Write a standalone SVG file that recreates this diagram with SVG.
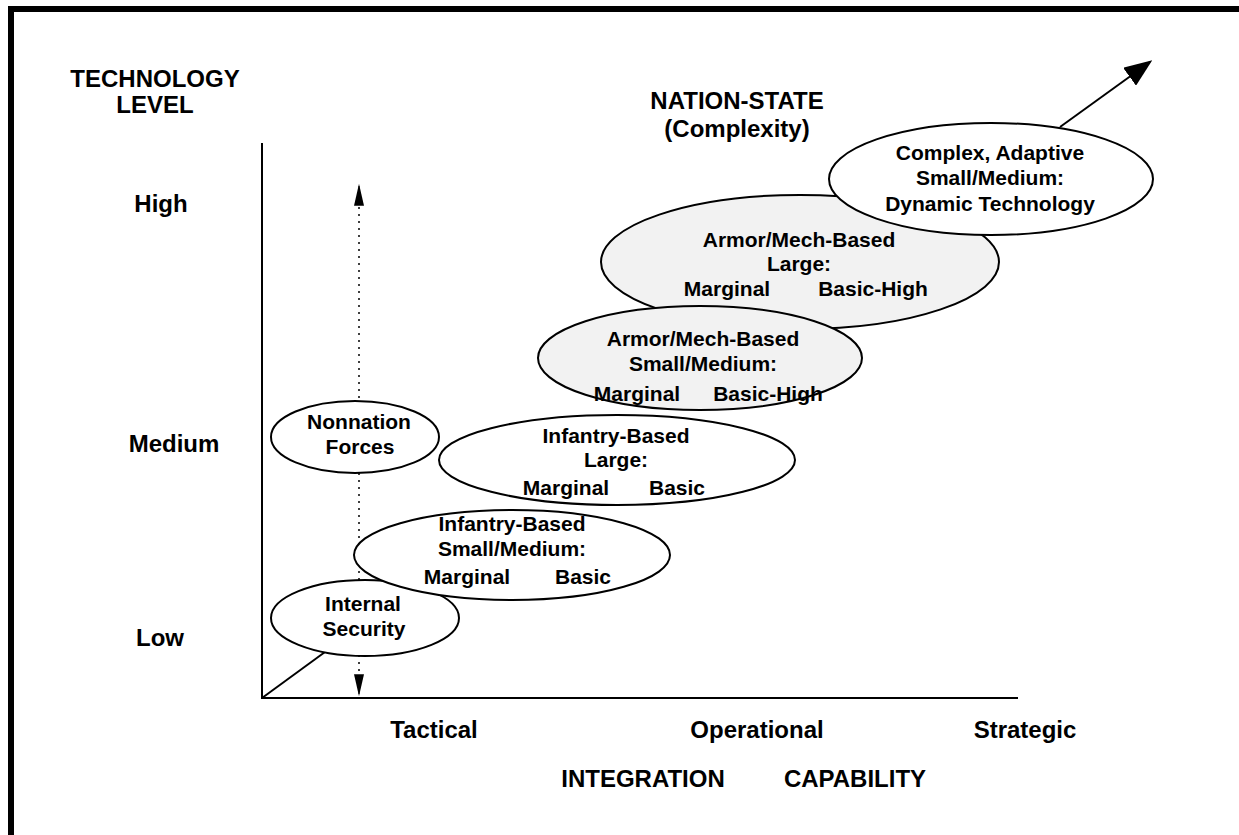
<svg xmlns="http://www.w3.org/2000/svg" width="1239" height="835" viewBox="0 0 1239 835">
  <style>
    text { font-family: "Liberation Sans", Arial, sans-serif; font-weight: bold; font-size: 21px; fill: #000; text-anchor: middle; }
    .title, .tick { font-size: 24px; }
    .node ellipse { stroke: #000; stroke-width: 2; fill: #fff; }
    .node.shaded ellipse { fill: #f2f2f2; }
    .axis { stroke: #000; stroke-width: 2; fill: none; }
    .dotted { stroke: #000; stroke-width: 1.5; stroke-dasharray: 2 5; fill: none; }
  </style>
  <defs>
    <marker id="bigHead" viewBox="0 0 10 10" refX="9" refY="5" markerWidth="28" markerHeight="22" markerUnits="userSpaceOnUse" orient="auto" preserveAspectRatio="none">
      <path d="M0,0 L10,5 L0,10 Z" fill="#000"/>
    </marker>
    <marker id="tallHead" viewBox="0 0 10 10" refX="9" refY="5" markerWidth="22" markerHeight="10" markerUnits="userSpaceOnUse" orient="auto" preserveAspectRatio="none">
      <path d="M0,0 L10,5 L0,10 Z" fill="#000"/>
    </marker>
  </defs>

  <rect width="1239" height="835" fill="#fff"/>

  <!-- frame -->
  <path d="M11,835 V9 H1239" fill="none" stroke="#000" stroke-width="6"/>

  <!-- axis titles and tick labels -->
  <g id="labels">
    <text class="title" x="155" y="87">TECHNOLOGY</text>
    <text class="title" x="155" y="113">LEVEL</text>
    <text class="title" x="737" y="109">NATION-STATE</text>
    <text class="title" x="737" y="137">(Complexity)</text>
    <text class="tick" x="161" y="212">High</text>
    <text class="tick" x="174" y="452">Medium</text>
    <text class="tick" x="160" y="646">Low</text>
    <text class="tick" x="434" y="738">Tactical</text>
    <text class="tick" x="757" y="738">Operational</text>
    <text class="tick" x="1025" y="738">Strategic</text>
    <text class="title" x="643" y="787">INTEGRATION</text>
    <text class="title" x="855" y="787">CAPABILITY</text>
  </g>

  <!-- axes and connectors -->
  <g id="connectors">
    <path class="axis" d="M262,143 V698 H1018"/>
    <path class="axis" d="M262,698 L325,652"/>
    <path class="dotted" d="M359,200 V680"/>
    <path d="M359,196 V186" stroke="#000" stroke-width="1" marker-end="url(#tallHead)"/>
    <path d="M359,684 V694" stroke="#000" stroke-width="1" marker-end="url(#tallHead)"/>
    <path class="axis" d="M1060,127 L1150,62" marker-end="url(#bigHead)"/>
  </g>

  <g id="internal-security" class="node">
    <ellipse cx="365" cy="618" rx="94" ry="38"/>
    <text x="363" y="611">Internal</text>
    <text x="364" y="636">Security</text>
  </g>

  <g id="infantry-small" class="node">
    <ellipse cx="512" cy="555" rx="158" ry="45"/>
    <text x="512" y="531">Infantry-Based</text>
    <text x="512" y="556">Small/Medium:</text>
    <text x="467" y="584">Marginal</text>
    <text x="583" y="584">Basic</text>
  </g>

  <g id="nonnation-forces" class="node">
    <ellipse cx="355" cy="437" rx="84" ry="36"/>
    <text x="359" y="429">Nonnation</text>
    <text x="360" y="454">Forces</text>
  </g>

  <g id="infantry-large" class="node">
    <ellipse cx="617" cy="460" rx="178" ry="45"/>
    <text x="616" y="443">Infantry-Based</text>
    <text x="616" y="467">Large:</text>
    <text x="566" y="495">Marginal</text>
    <text x="677" y="495">Basic</text>
  </g>

  <g id="armor-large" class="node shaded">
    <ellipse cx="800" cy="262" rx="199" ry="67"/>
    <text x="799" y="247">Armor/Mech-Based</text>
    <text x="799" y="271">Large:</text>
    <text x="727" y="296">Marginal</text>
    <text x="873" y="296">Basic-High</text>
  </g>

  <g id="armor-small" class="node shaded">
    <ellipse cx="700" cy="358" rx="162" ry="52"/>
    <text x="703" y="346">Armor/Mech-Based</text>
    <text x="703" y="371">Small/Medium:</text>
    <text x="637" y="401">Marginal</text>
    <text x="768" y="401">Basic-High</text>
  </g>

  <g id="complex-adaptive" class="node">
    <ellipse cx="991" cy="179" rx="162" ry="56"/>
    <text x="990" y="160">Complex, Adaptive</text>
    <text x="990" y="185">Small/Medium:</text>
    <text x="990" y="211">Dynamic Technology</text>
  </g>
</svg>
